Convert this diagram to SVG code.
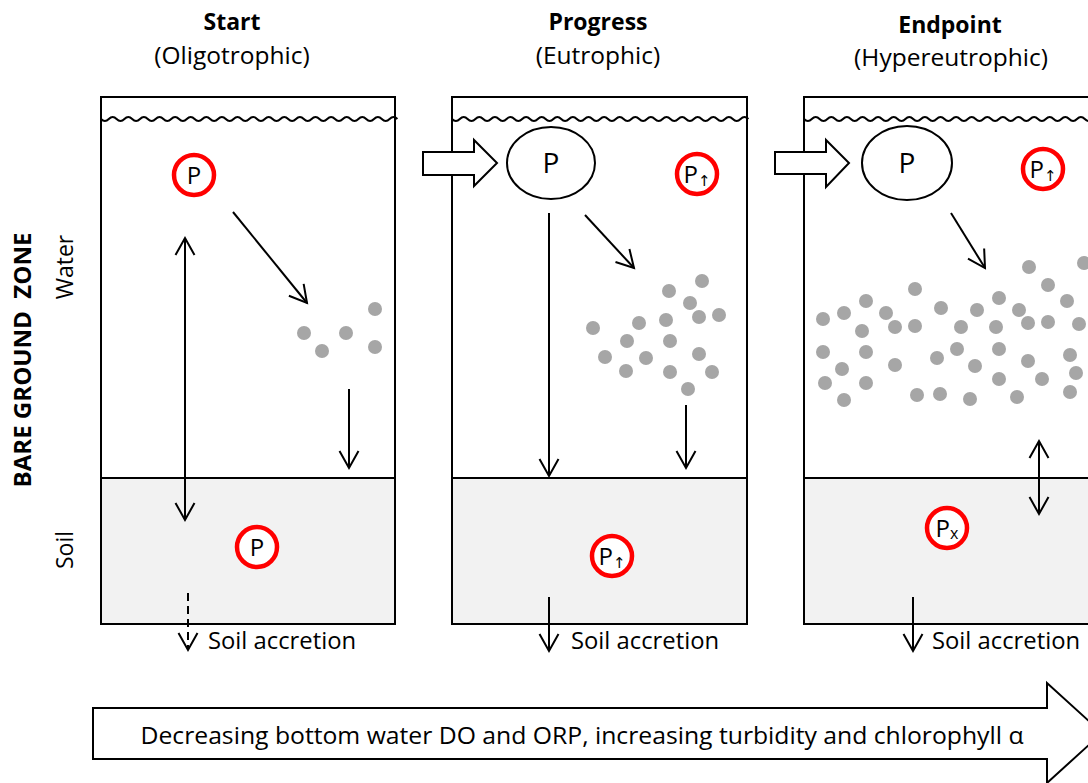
<svg xmlns="http://www.w3.org/2000/svg" xmlns:xlink="http://www.w3.org/1999/xlink" width="1088" height="783" viewBox="0 0 1088 783">
<style>
.t{font-family:"Open Sans","Liberation Sans",sans-serif;fill:#000}
.b{font-weight:bold}
.panel{fill:none;stroke:#000;stroke-width:2}
.soil{fill:#f2f2f2;stroke:none}
.ln{stroke:#000;stroke-width:2;fill:none}
.ar{stroke:#000;stroke-width:2;fill:none;marker-end:url(#ah)}
.dar{stroke:#000;stroke-width:2;fill:none;marker-end:url(#ah);marker-start:url(#ah2)}
.rc{fill:#fff;stroke:#ff0000;stroke-width:4.5}
.dot{fill:#a6a6a6}
.blk{fill:#fff;stroke:#000;stroke-width:2}
.wv{fill:none;stroke:#000;stroke-width:2}
</style>
<defs>
<marker id="ah" markerUnits="userSpaceOnUse" viewBox="0 0 22 22" markerWidth="22" markerHeight="22" refX="19" refY="11" orient="auto"><path d="M2,1.5 L19,11 L2,20.5" fill="none" stroke="#000" stroke-width="2"/></marker>
<marker id="ah2" markerUnits="userSpaceOnUse" viewBox="0 0 22 22" markerWidth="22" markerHeight="22" refX="19" refY="11" orient="auto-start-reverse"><path d="M2,1.5 L19,11 L2,20.5" fill="none" stroke="#000" stroke-width="2"/></marker>
<path id="wave" class="wv" d="M0,0 q3.9,4 7.8,0 t7.8,0 t7.8,0 t7.8,0 t7.8,0 t7.8,0 t7.8,0 t7.8,0 t7.8,0 t7.8,0 t7.8,0 t7.8,0 t7.8,0 t7.8,0 t7.8,0 t7.8,0 t7.8,0 t7.8,0 t7.8,0 t7.8,0 t7.8,0 t7.8,0 t7.8,0 t7.8,0 t7.8,0 t7.8,0 t7.8,0 t7.8,0 t7.8,0 t7.8,0 t7.8,0 t7.8,0 t7.8,0 t7.8,0 t7.8,0 t7.8,0 t7.8,0 t7.8,0"/>
</defs>
<rect width="1088" height="783" fill="#fff"/>

<g id="labels">
<text class="t b" x="232" y="30" font-size="23" text-anchor="middle">Start</text>
<text class="t" x="232" y="64" font-size="24.5" text-anchor="middle">(Oligotrophic)</text>
<text class="t b" x="598" y="30" font-size="23" text-anchor="middle">Progress</text>
<text class="t" x="598" y="64" font-size="24.5" text-anchor="middle">(Eutrophic)</text>
<text class="t b" x="950" y="33" font-size="23" text-anchor="middle">Endpoint</text>
<text class="t" x="951" y="66" font-size="24.5" text-anchor="middle">(Hypereutrophic)</text>
<text class="t b" transform="translate(31,360) rotate(-90)" font-size="23" text-anchor="middle" xml:space="preserve" textLength="255" lengthAdjust="spacingAndGlyphs">BARE GROUND  ZONE</text>
<text class="t" transform="translate(73,267) rotate(-90)" font-size="23" text-anchor="middle">Water</text>
<text class="t" transform="translate(73,550) rotate(-90)" font-size="23" text-anchor="middle">Soil</text>
</g>

<g id="panel-start">
<rect class="soil" x="101" y="478" width="294" height="146"/>
<rect class="panel" x="101" y="97" width="294" height="527"/>
<line class="ln" x1="101" y1="478" x2="395" y2="478"/>
<use xlink:href="#wave" x="101" y="119"/>
<text class="t" x="208" y="649" font-size="23.8">Soil accretion</text>
</g>

<g id="panel-progress">
<rect class="soil" x="452" y="478" width="295" height="146"/>
<rect class="panel" x="452" y="97" width="295" height="527"/>
<line class="ln" x1="452" y1="478" x2="747" y2="478"/>
<use xlink:href="#wave" x="452" y="119"/>
<text class="t" x="571" y="649" font-size="23.8">Soil accretion</text>
</g>

<g id="panel-endpoint">
<rect class="soil" x="804" y="478" width="295" height="146"/>
<rect class="panel" x="804" y="97" width="295" height="527"/>
<line class="ln" x1="804" y1="478" x2="1099" y2="478"/>
<use xlink:href="#wave" x="804" y="119"/>
<text class="t" x="932" y="649" font-size="23.8">Soil accretion</text>
</g>

<g id="dots">
<circle class="dot" cx="304" cy="333" r="7"/><circle class="dot" cx="322" cy="351" r="7"/><circle class="dot" cx="346" cy="333" r="7"/><circle class="dot" cx="375" cy="309" r="7"/><circle class="dot" cx="375" cy="347" r="7"/>
<circle class="dot" cx="593" cy="328" r="7"/><circle class="dot" cx="669" cy="291" r="7"/><circle class="dot" cx="702" cy="281" r="7"/><circle class="dot" cx="690" cy="303" r="7"/><circle class="dot" cx="699" cy="317" r="7"/><circle class="dot" cx="719" cy="315" r="7"/><circle class="dot" cx="639" cy="323" r="7"/><circle class="dot" cx="666" cy="320" r="7"/><circle class="dot" cx="627" cy="341" r="7"/><circle class="dot" cx="670" cy="341" r="7"/><circle class="dot" cx="605" cy="357" r="7"/><circle class="dot" cx="646" cy="358" r="7"/><circle class="dot" cx="699" cy="354" r="7"/><circle class="dot" cx="626" cy="371" r="7"/><circle class="dot" cx="670" cy="372" r="7"/><circle class="dot" cx="712" cy="372" r="7"/><circle class="dot" cx="688" cy="389" r="7"/>
<circle class="dot" cx="1029" cy="267" r="7"/><circle class="dot" cx="1084" cy="263" r="7"/><circle class="dot" cx="1048" cy="285" r="7"/><circle class="dot" cx="915" cy="289" r="7"/><circle class="dot" cx="1067" cy="301" r="7"/><circle class="dot" cx="866" cy="301" r="7"/><circle class="dot" cx="999" cy="298" r="7"/><circle class="dot" cx="941" cy="308" r="7"/><circle class="dot" cx="977" cy="310" r="7"/><circle class="dot" cx="1019" cy="310" r="7"/><circle class="dot" cx="844" cy="313" r="7"/><circle class="dot" cx="886" cy="313" r="7"/><circle class="dot" cx="823" cy="319" r="7"/><circle class="dot" cx="862" cy="331" r="7"/><circle class="dot" cx="895" cy="327" r="7"/><circle class="dot" cx="915" cy="326" r="7"/><circle class="dot" cx="961" cy="327" r="7"/><circle class="dot" cx="996" cy="327" r="7"/><circle class="dot" cx="1028" cy="323" r="7"/><circle class="dot" cx="1048" cy="322" r="7"/><circle class="dot" cx="1079" cy="324" r="7"/><circle class="dot" cx="823" cy="352" r="7"/><circle class="dot" cx="866" cy="352" r="7"/><circle class="dot" cx="957" cy="349" r="7"/><circle class="dot" cx="999" cy="349" r="7"/><circle class="dot" cx="937" cy="358" r="7"/><circle class="dot" cx="1070" cy="355" r="7"/><circle class="dot" cx="1028" cy="361" r="7"/><circle class="dot" cx="842" cy="369" r="7"/><circle class="dot" cx="895" cy="365" r="7"/><circle class="dot" cx="975" cy="366" r="7"/><circle class="dot" cx="1076" cy="373" r="7"/><circle class="dot" cx="825" cy="383" r="7"/><circle class="dot" cx="866" cy="383" r="7"/><circle class="dot" cx="999" cy="379" r="7"/><circle class="dot" cx="1042" cy="379" r="7"/><circle class="dot" cx="1070" cy="392" r="7"/><circle class="dot" cx="917" cy="395" r="7"/><circle class="dot" cx="940" cy="394" r="7"/><circle class="dot" cx="970" cy="399" r="7"/><circle class="dot" cx="1017" cy="397" r="7"/><circle class="dot" cx="844" cy="400" r="7"/>
</g>

<g id="connectors">
<line class="ar" x1="233" y1="212" x2="307" y2="303"/>
<line class="dar" x1="185" y1="238" x2="185" y2="520"/>
<line class="ar" x1="349" y1="389" x2="349" y2="468"/>
<line class="ar" x1="188" y1="593" x2="188" y2="650" stroke-dasharray="8,5"/>
<line class="ar" x1="549" y1="213" x2="549" y2="476"/>
<line class="ar" x1="585" y1="215" x2="634" y2="268"/>
<line class="ar" x1="686" y1="405" x2="686" y2="468"/>
<line class="ar" x1="549" y1="597" x2="549" y2="651"/>
<line class="ar" x1="951" y1="213" x2="985" y2="268"/>
<line class="dar" x1="1039" y1="441" x2="1039" y2="514"/>
<line class="ar" x1="913" y1="597" x2="913" y2="651"/>
</g>

<g id="block-arrow-1"><polygon class="blk" points="423,152 474,152 474,140 497,163 474,186 474,175 423,175"/></g>
<g id="block-arrow-2"><polygon class="blk" points="775,152 826,152 826,140 849,163 826,187 826,174 775,174"/></g>

<g id="p-start-water"><circle class="rc" cx="194" cy="175" r="20"/><text class="t" x="194" y="184" font-size="24" text-anchor="middle">P</text></g>
<g id="p-start-soil"><circle class="rc" cx="257" cy="547" r="20"/><text class="t" x="257" y="556" font-size="24" text-anchor="middle">P</text></g>
<g id="p-progress-ellipse"><ellipse cx="551" cy="163" rx="44" ry="36" fill="#fff" stroke="#000" stroke-width="2"/><text class="t" x="551" y="173" font-size="28" text-anchor="middle">P</text></g>
<g id="p-progress-water"><circle class="rc" cx="697" cy="174" r="20"/><text class="t" x="697" y="183" font-size="24" text-anchor="middle">P<tspan font-family="DejaVu Sans,sans-serif" font-size="15" dy="3">↑</tspan></text></g>
<g id="p-progress-soil"><circle class="rc" cx="612" cy="556" r="20"/><text class="t" x="612" y="565" font-size="24" text-anchor="middle">P<tspan font-family="DejaVu Sans,sans-serif" font-size="15" dy="3">↑</tspan></text></g>
<g id="p-end-ellipse"><ellipse cx="907" cy="163" rx="45" ry="37" fill="#fff" stroke="#000" stroke-width="2"/><text class="t" x="907" y="173" font-size="28" text-anchor="middle">P</text></g>
<g id="p-end-water"><circle class="rc" cx="1043" cy="169" r="20"/><text class="t" x="1043" y="178" font-size="24" text-anchor="middle">P<tspan font-family="DejaVu Sans,sans-serif" font-size="15" dy="3">↑</tspan></text></g>
<g id="p-end-soil"><circle class="rc" cx="947" cy="528" r="20"/><text class="t" x="947" y="537" font-size="24" text-anchor="middle">P<tspan font-size="16" dy="2">x</tspan></text></g>

<g id="trend-arrow">
<polygon class="blk" points="93,708 1047,708 1047,683 1102,733 1047,783 1047,759 93,759"/>
<text class="t" x="582" y="744" font-size="24" text-anchor="middle" textLength="883" lengthAdjust="spacingAndGlyphs">Decreasing bottom water DO and ORP, increasing turbidity and chlorophyll α</text>
</g>
</svg>
